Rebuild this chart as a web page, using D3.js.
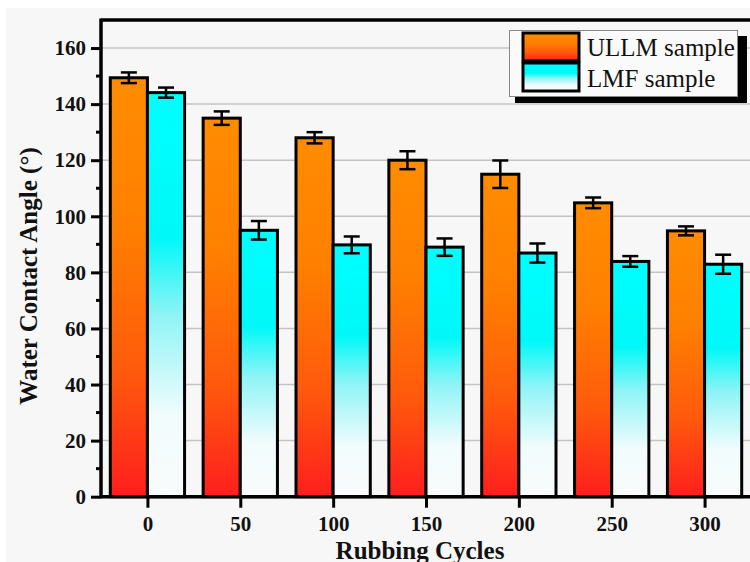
<!DOCTYPE html>
<html>
<head>
<meta charset="utf-8">
<script src="https://cdn.jsdelivr.net/npm/d3@7"></script>
<style>
  html, body { margin: 0; padding: 0; background: #ffffff; }
  svg { display: block; }
</style>
</head>
<body>
<div id="chart"></div>
<script>
////////////////////////////////////////////////////////////////////////////////
// Data
////////////////////////////////////////////////////////////////////////////////
var cycles = [0, 50, 100, 150, 200, 250, 300];
var ullmValues = [149.4, 135, 128, 120, 115, 104.8, 94.8];
var ullmErrors = [1.9, 2.4, 2, 3.2, 4.9, 1.9, 1.6];
var lmfValues = [144.1, 95, 89.8, 89, 86.9, 83.9, 82.9];
var lmfErrors = [1.8, 3.3, 3, 3.1, 3.4, 1.9, 3.4];
var yTicks = [0, 20, 40, 60, 80, 100, 120, 140, 160];
var yMinorTicks = [10, 30, 50, 70, 90, 110, 130, 150];
var seriesNames = ["ULLM sample", "LMF sample"];

////////////////////////////////////////////////////////////////////////////////
// Setup
////////////////////////////////////////////////////////////////////////////////
var W = 750, H = 562;
var plotLeft = 101, plotTop = 20, plotBottom = 496.7, plotRight = 751;
var barW = 20; // in data units

var svg = d3.select("#chart").append("svg")
   .attr("width", W)
   .attr("height", H);

var defs = svg.append("defs");

var gOrange = defs.append("linearGradient").attr("id", "gradOrange")
   .attr("x1", 0).attr("y1", 0).attr("x2", 0).attr("y2", 1);
gOrange.append("stop").attr("offset", 0).attr("stop-color", "#ff8c00");
gOrange.append("stop").attr("offset", 0.35).attr("stop-color", "#ff8000");
gOrange.append("stop").attr("offset", 0.7).attr("stop-color", "#ff5a0c");
gOrange.append("stop").attr("offset", 1).attr("stop-color", "#ff1e1e");

var gCyan = defs.append("linearGradient").attr("id", "gradCyan")
   .attr("x1", 0).attr("y1", 0).attr("x2", 0).attr("y2", 1);
gCyan.append("stop").attr("offset", 0).attr("stop-color", "#00ffff");
gCyan.append("stop").attr("offset", 0.36).attr("stop-color", "#00f8f8");
gCyan.append("stop").attr("offset", 0.55).attr("stop-color", "#8ff4f6");
gCyan.append("stop").attr("offset", 0.8).attr("stop-color", "#f2fcfd");
gCyan.append("stop").attr("offset", 1).attr("stop-color", "#f8fbfb");

// light grey page area
svg.append("rect")
   .attr("x", 6).attr("y", 8)
   .attr("width", W - 6).attr("height", H - 8)
   .attr("fill", "#f7f7f7");

var x = d3.scaleLinear().domain([-25, 325]).range([plotLeft, plotRight]);
var y = d3.scaleLinear().domain([0, 170]).range([plotBottom, plotTop]);

////////////////////////////////////////////////////////////////////////////////
// Grid lines
////////////////////////////////////////////////////////////////////////////////
svg.append("g").selectAll("line")
   .data(yTicks.slice(1))
   .enter().append("line")
   .attr("x1", plotLeft).attr("x2", W)
   .attr("y1", function(d) { return y(d); })
   .attr("y2", function(d) { return y(d); })
   .attr("stroke", "#c4c4c4")
   .attr("stroke-width", 1.5);

////////////////////////////////////////////////////////////////////////////////
// Bars
////////////////////////////////////////////////////////////////////////////////
var rows = cycles.map(function(c, i) {
   return { c: c, u: ullmValues[i], ue: ullmErrors[i], l: lmfValues[i], le: lmfErrors[i] };
});

var bars = svg.append("g");
bars.selectAll("rect.ullm")
   .data(rows).enter().append("rect")
   .attr("class", "ullm")
   .attr("x", function(d) { return x(d.c - barW); })
   .attr("y", function(d) { return y(d.u); })
   .attr("width", function(d) { return x(d.c) - x(d.c - barW); })
   .attr("height", function(d) { return y(0) - y(d.u); })
   .attr("fill", "url(#gradOrange)")
   .attr("stroke", "#000")
   .attr("stroke-width", 3);

bars.selectAll("rect.lmf")
   .data(rows).enter().append("rect")
   .attr("class", "lmf")
   .attr("x", function(d) { return x(d.c); })
   .attr("y", function(d) { return y(d.l); })
   .attr("width", function(d) { return x(d.c + barW) - x(d.c); })
   .attr("height", function(d) { return y(0) - y(d.l); })
   .attr("fill", "url(#gradCyan)")
   .attr("stroke", "#000")
   .attr("stroke-width", 3);

////////////////////////////////////////////////////////////////////////////////
// Error bars
////////////////////////////////////////////////////////////////////////////////
var errs = [];
rows.forEach(function(d) {
   errs.push({ cx: d.c - barW / 2, v: d.u, e: d.ue });
   errs.push({ cx: d.c + barW / 2, v: d.l, e: d.le });
});
var eg = svg.append("g").attr("stroke", "#000").attr("stroke-width", 2.5);
var capHalf = 8;
errs.forEach(function(d) {
   var px = x(d.cx);
   eg.append("line").attr("x1", px).attr("x2", px)
      .attr("y1", y(d.v + d.e)).attr("y2", y(d.v - d.e));
   eg.append("line").attr("x1", px - capHalf).attr("x2", px + capHalf)
      .attr("y1", y(d.v + d.e)).attr("y2", y(d.v + d.e));
   eg.append("line").attr("x1", px - capHalf).attr("x2", px + capHalf)
      .attr("y1", y(d.v - d.e)).attr("y2", y(d.v - d.e));
});

////////////////////////////////////////////////////////////////////////////////
// Axes
////////////////////////////////////////////////////////////////////////////////
var fontSerif = "'Liberation Serif', 'Times New Roman', serif";

var yAxis = svg.append("g")
   .attr("transform", "translate(" + plotLeft + ",0)")
   .call(d3.axisLeft(y).tickValues(yTicks).tickSize(10).tickPadding(5));
yAxis.selectAll("line").attr("stroke", "#000").attr("stroke-width", 3);
yAxis.select(".domain").remove();
yAxis.selectAll("text")
   .attr("font-family", fontSerif).attr("font-weight", "bold")
   .attr("font-size", "21px").attr("fill", "#111");

svg.append("g").selectAll("line")
   .data(yMinorTicks).enter().append("line")
   .attr("x1", plotLeft - 5).attr("x2", plotLeft)
   .attr("y1", function(d) { return y(d); })
   .attr("y2", function(d) { return y(d); })
   .attr("stroke", "#000").attr("stroke-width", 3);

var xAxis = svg.append("g")
   .attr("transform", "translate(0," + plotBottom + ")")
   .call(d3.axisBottom(x).tickValues(cycles).tickSize(11).tickPadding(8));
xAxis.selectAll("line").attr("stroke", "#000").attr("stroke-width", 3);
xAxis.select(".domain").remove();
xAxis.selectAll("text")
   .attr("font-family", fontSerif).attr("font-weight", "bold")
   .attr("font-size", "21px").attr("fill", "#111");

// frame lines
svg.append("line").attr("x1", plotLeft).attr("x2", plotLeft)
   .attr("y1", plotTop - 1.5).attr("y2", plotBottom + 1.5)
   .attr("stroke", "#000").attr("stroke-width", 3.5);
svg.append("line").attr("x1", plotLeft).attr("x2", W)
   .attr("y1", plotBottom).attr("y2", plotBottom)
   .attr("stroke", "#000").attr("stroke-width", 3.5);
svg.append("line").attr("x1", plotLeft).attr("x2", W)
   .attr("y1", plotTop).attr("y2", plotTop)
   .attr("stroke", "#000").attr("stroke-width", 3.5);

// axis titles
svg.append("text")
   .attr("transform", "translate(37,276) rotate(-90)")
   .attr("text-anchor", "middle")
   .attr("font-family", fontSerif).attr("font-weight", "bold")
   .attr("font-size", "25px").attr("fill", "#111")
   .text("Water Contact Angle (°)");

svg.append("text")
   .attr("x", 420).attr("y", 559)
   .attr("text-anchor", "middle")
   .attr("font-family", fontSerif).attr("font-weight", "bold")
   .attr("font-size", "25px").attr("fill", "#111")
   .text("Rubbing Cycles");

////////////////////////////////////////////////////////////////////////////////
// Legend
////////////////////////////////////////////////////////////////////////////////
var lg = svg.append("g");
lg.append("rect").attr("x", 515).attr("y", 36).attr("width", 232).attr("height", 67)
   .attr("fill", "#000");
lg.append("rect").attr("x", 509.5).attr("y", 30.5).attr("width", 228).attr("height", 66)
   .attr("fill", "#fafafa").attr("stroke", "#888").attr("stroke-width", 1);
var fills = ["url(#gradOrange)", "url(#gradCyan)"];
seriesNames.forEach(function(name, i) {
   lg.append("rect")
      .attr("x", 523).attr("y", 33 + i * 30)
      .attr("width", 56).attr("height", 28)
      .attr("fill", fills[i])
      .attr("stroke", "#000").attr("stroke-width", 3);
   lg.append("text")
      .attr("x", 587).attr("y", 56 + i * 31)
      .attr("font-family", fontSerif)
      .attr("font-size", "25px").attr("fill", "#111")
      .text(name);
});
</script>
</body>
</html>
